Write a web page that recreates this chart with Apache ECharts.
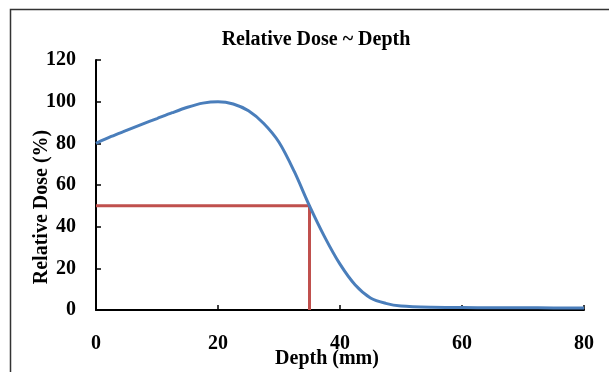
<!DOCTYPE html>
<html><head><meta charset="utf-8">
<script src="https://cdn.jsdelivr.net/npm/echarts@6/dist/echarts.min.js"></script>
<style>html,body{margin:0;padding:0;background:#fff}#c{width:609px;height:372px}</style>
</head><body><div id="c"></div>
<script>
const titleText = 'Relative Dose ~ Depth';
const xName = 'Depth (mm)';
const yName = 'Relative Dose (%)';
const depth = [0, 2.5, 5, 7.5, 10, 12.5, 15, 17.5, 20, 22.5, 25, 27.5, 30, 32.5, 35, 37.5, 40, 42.5, 45, 47.5, 50, 55, 60, 65, 70, 75, 80];
const dose  = [80, 83.3, 86.2, 89.1, 91.9, 94.7, 97.3, 99.3, 100, 98.9, 95.6, 89.5, 80.5, 66.5, 50, 35, 22, 12, 5.8, 3.2, 1.9, 1.3, 1.2, 1.1, 1.1, 1.0, 1.0];
const refX = [0, 35, 35];
const refY = [50, 50, 0];
const xMin = 0, xMax = 80, xStep = 20;
const yMin = 0, yMax = 120, yStep = 20;

const serif = '"Liberation Serif", "Times New Roman", serif';
const chart = echarts.init(document.getElementById('c'), null, {renderer: 'canvas'});
chart.setOption({
  animation: false,
  backgroundColor: '#fff',
  grid: {left: 96, right: 25, top: 60, bottom: 62, containLabel: false},
  xAxis: {
    type: 'value', min: xMin, max: xMax, interval: xStep,
    axisLine: {show: true, onZero: false, lineStyle: {color: '#000', width: 2}},
    axisTick: {show: true, inside: true, length: 5, lineStyle: {color: '#000', width: 1.5}},
    axisLabel: {margin: 24, color: '#000', fontFamily: serif, fontWeight: 'bold', fontSize: 20},
    splitLine: {show: false}
  },
  yAxis: {
    type: 'value', min: yMin, max: yMax, interval: yStep,
    axisLine: {show: true, lineStyle: {color: '#000', width: 2}},
    axisTick: {show: true, inside: true, length: 5, lineStyle: {color: '#000', width: 1.5}},
    axisLabel: {margin: 20, color: '#000', fontFamily: serif, fontWeight: 'bold', fontSize: 20},
    splitLine: {show: false}
  },
  series: [
    {
      type: 'line', data: depth.map((d, i) => [d, dose[i]]),
      smooth: 0.3, showSymbol: false, symbol: 'none',
      lineStyle: {color: '#4A7EBB', width: 3}, z: 3
    },
    {
      type: 'line', data: refX.map((d, i) => [d, refY[i]]),
      showSymbol: false, symbol: 'none',
      lineStyle: {color: '#C0504D', width: 3}, z: 2
    }
  ],
  graphic: [
    {type: 'rect', shape: {x: 10.5, y: 9.5, width: 700, height: 500},
     style: {fill: 'none', stroke: '#333', lineWidth: 1.5}, silent: true},
    {type: 'text', x: 316, y: 40,
     style: {text: titleText, font: 'bold 20px ' + serif, fill: '#000', textAlign: 'center', textVerticalAlign: 'middle'}},
    {type: 'text', x: 327, y: 359,
     style: {text: xName, font: 'bold 20px ' + serif, fill: '#000', textAlign: 'center', textVerticalAlign: 'middle'}},
    {type: 'text', x: 42, y: 207, rotation: Math.PI / 2,
     style: {text: yName, font: 'bold 20px ' + serif, fill: '#000', textAlign: 'center', textVerticalAlign: 'middle'}}
  ]
});
</script>
</body></html>
